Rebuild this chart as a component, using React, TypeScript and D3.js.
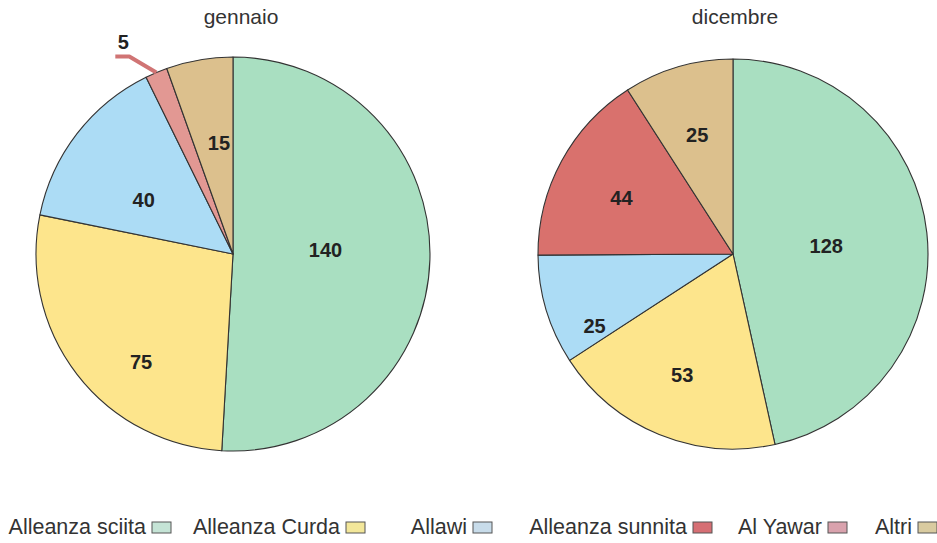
import React from "react";
import * as d3 from "d3";

const parties = ["Alleanza sciita", "Alleanza Curda", "Allawi", "Alleanza sunnita", "Al Yawar", "Altri"];
const partyColors = ["#a9dfc1", "#fde58c", "#acdcf5", "#d9716d", "#e29893", "#dcc08d"];
const legendBoxColors = ["#c5e4d6", "#f3e79a", "#c8dcea", "#d66f74", "#d9a2ad", "#d9cba0"];

const gennaioParties = ["Alleanza sciita", "Alleanza Curda", "Allawi", "Al Yawar", "Altri"];
const gennaioValues = [140, 75, 40, 5, 15];
const dicembreParties = ["Alleanza sciita", "Alleanza Curda", "Allawi", "Alleanza sunnita", "Altri"];
const dicembreValues = [128, 53, 25, 44, 25];

// label placement: [angle in degrees clockwise from top, distance as fraction of radius]
const gennaioLabelPos: [number, number][] = [[87.5, 0.47], [220.4, 0.72], [301.2, 0.53], [0, 0], [352.8, 0.57]];
const dicembreLabelPos: [number, number][] = [[85, 0.48], [202.9, 0.67], [242.6, 0.8], [296.6, 0.64], [343.3, 0.64]];

const FONT = "'Liberation Sans', Arial, Helvetica, sans-serif";

function Pie({ cx, cy, r, names, values, labelPos, title, titleX, outsideIdx }: any) {
  const data = names.map((n: string, i: number) => ({ name: n, value: values[i], i }));
  const pie = d3.pie<any>().value((d) => d.value).sort(null).startAngle(0).endAngle(2 * Math.PI);
  const arcs = pie(data);
  const arc = d3.arc<any>().innerRadius(0).outerRadius(r);
  const color = d3.scaleOrdinal<string, string>().domain(parties).range(partyColors);
  return (
    <g>
      <text x={titleX} y={24} textAnchor="middle" fontFamily={FONT} fontSize={21} fill="#333">{title}</text>
      <g transform={`translate(${cx},${cy})`}>
        {arcs.map((a, k) => (
          <path key={k} d={arc(a) || ""} fill={color(a.data.name)} stroke="#333" strokeWidth={1.1} strokeLinejoin="round" />
        ))}
        {arcs.map((a, k) => {
          if (k === outsideIdx) {
            const mid = (a.startAngle + a.endAngle) / 2;
            const x0 = r * Math.sin(mid), y0 = -r * Math.cos(mid);
            const x1 = x0 - 27, y1 = y0 - 16;
            const x2 = x1 - 14;
            return (
              <g key={"l" + k}>
                <polyline points={`${x0},${y0} ${x1},${y1} ${x2},${y1}`} fill="none" stroke="#d07474" strokeWidth={4} strokeLinejoin="round" />
                <text x={x2 + 8} y={y1 - 8} textAnchor="middle" fontFamily={FONT} fontWeight="bold" fontSize={20} fill="#222">{a.data.value}</text>
              </g>
            );
          }
          const [deg, f] = labelPos[k];
          const ang = (deg * Math.PI) / 180;
          const x = f * r * Math.sin(ang), y = -f * r * Math.cos(ang);
          return (
            <text key={"t" + k} x={x} y={y} dy="0.36em" textAnchor="middle" fontFamily={FONT} fontWeight="bold" fontSize={20} fill="#222">{a.data.value}</text>
          );
        })}
      </g>
    </g>
  );
}

const legendBoxX = [152, 346, 473, 693, 828, 918];

export default function App() {
  return (
    <svg width={937} height={543} style={{ position: "absolute", left: 0, top: 0, background: "#fff" }}>
      <rect width={937} height={543} fill="#fff" />
      <Pie cx={233} cy={254} r={197} names={gennaioParties} values={gennaioValues} labelPos={gennaioLabelPos} title="gennaio" titleX={241} outsideIdx={3} />
      <Pie cx={733} cy={254} r={195} names={dicembreParties} values={dicembreValues} labelPos={dicembreLabelPos} title="dicembre" titleX={735} outsideIdx={-1} />
      <g>
        {parties.map((p, i) => (
          <g key={p}>
            <text x={legendBoxX[i] - 6} y={534} textAnchor="end" fontFamily={FONT} fontSize={21.5} fill="#333">{p}</text>
            <rect x={legendBoxX[i]} y={522} width={19} height={11} fill={legendBoxColors[i]} stroke="#555" strokeWidth={1} />
          </g>
        ))}
      </g>
    </svg>
  );
}
